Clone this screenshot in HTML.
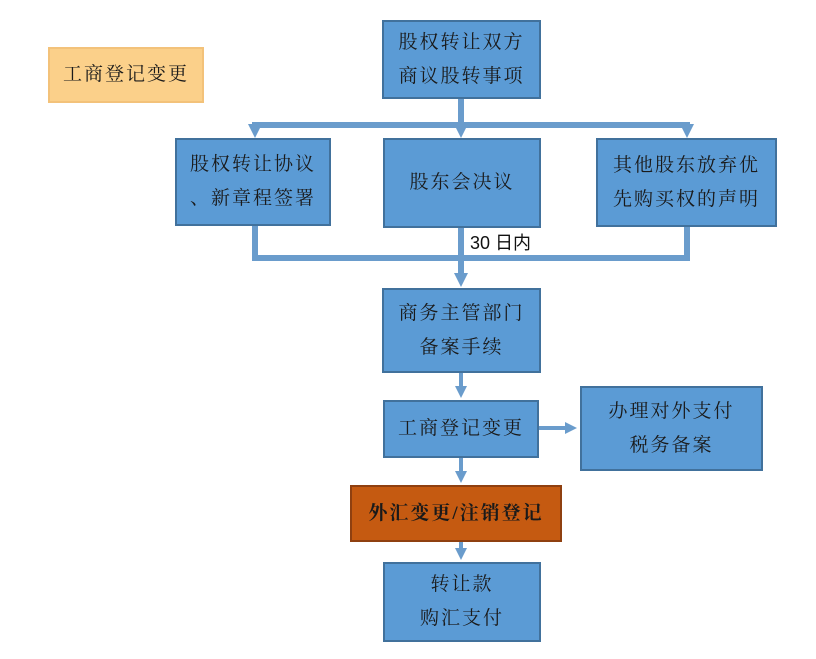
<!DOCTYPE html>
<html><head><meta charset="utf-8"><style>
body{margin:0;background:#fff;width:816px;height:659px;position:relative;overflow:hidden;font-family:"Liberation Serif","Noto Serif CJK SC",serif;}
.b{position:absolute;background:#5b9bd5;border:2px solid #41719c;box-sizing:border-box;display:flex;align-items:center;justify-content:center;text-align:center;color:#1a1a1a;font-size:19px;line-height:34px;letter-spacing:2px;}
svg{position:absolute;left:0;top:0}
</style></head><body>
<svg width="816" height="659">
<defs><marker id="a" markerUnits="userSpaceOnUse" markerWidth="14" markerHeight="14" refX="2" refY="7" orient="auto"><path d="M0,0 L14,7 L0,14 z" fill="#6a9ccc"/></marker>
<marker id="s" markerUnits="userSpaceOnUse" markerWidth="12" markerHeight="12" refX="2" refY="6" orient="auto"><path d="M0,0 L12,6 L0,12 z" fill="#6a9ccc"/></marker></defs>
<g stroke="#6a9ccc" stroke-width="6" fill="none">
<line x1="461" y1="98" x2="461" y2="125"/>
<line x1="252" y1="125" x2="690" y2="125"/>
<line x1="255" y1="125" x2="255" y2="126" marker-end="url(#a)"/>
<line x1="461" y1="125" x2="461" y2="126" marker-end="url(#a)"/>
<line x1="687" y1="125" x2="687" y2="126" marker-end="url(#a)"/>
<polyline points="255,225 255,258 687,258 687,226"/>
<line x1="461" y1="228" x2="461" y2="275" marker-end="url(#a)"/>
</g>
<g stroke="#6a9ccc" stroke-width="4" fill="none">
<line x1="461" y1="372" x2="461" y2="388" marker-end="url(#s)"/>
<line x1="538" y1="428" x2="567" y2="428" marker-end="url(#s)"/>
<line x1="461" y1="457" x2="461" y2="473" marker-end="url(#s)"/>
<line x1="461" y1="542" x2="461" y2="550" marker-end="url(#s)"/>
</g>
<text x="470" y="249" font-family="Liberation Sans,Noto Sans CJK SC,sans-serif" font-size="18" fill="#111">30 日内</text>
</svg>
<div class="b" style="left:48px;top:47px;width:156px;height:56px;background:#fbd08a;border-color:#f3c27a;">工商登记变更</div>
<div class="b" style="left:382px;top:20px;width:159px;height:79px;">股权转让双方<br>商议股转事项</div>
<div class="b" style="left:175px;top:138px;width:156px;height:88px;">股权转让协议<br>、新章程签署</div>
<div class="b" style="left:383px;top:138px;width:158px;height:90px;">股东会决议</div>
<div class="b" style="left:596px;top:138px;width:181px;height:89px;">其他股东放弃优<br>先购买权的声明</div>
<div class="b" style="left:382px;top:288px;width:159px;height:85px;">商务主管部门<br>备案手续</div>
<div class="b" style="left:383px;top:400px;width:156px;height:58px;">工商登记变更</div>
<div class="b" style="left:580px;top:386px;width:183px;height:85px;">办理对外支付<br>税务备案</div>
<div class="b" style="left:350px;top:485px;width:212px;height:57px;background:#c55a11;border-color:#8f4010;font-weight:bold;">外汇变更/注销登记</div>
<div class="b" style="left:383px;top:562px;width:158px;height:80px;">转让款<br>购汇支付</div>
</body></html>
